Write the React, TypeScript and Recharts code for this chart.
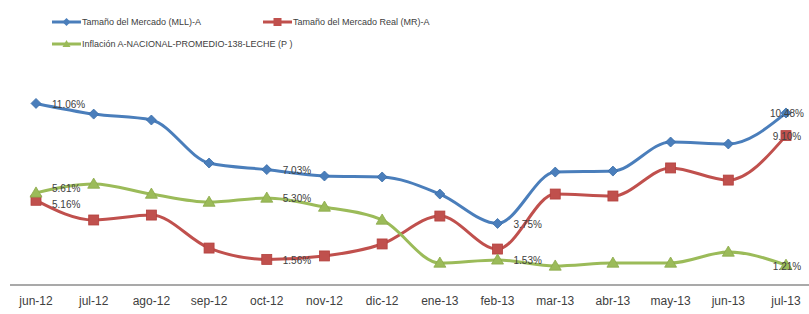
import React from "react";
import { LineChart, Line, XAxis, YAxis } from "recharts";

const categories = ["jun-12", "jul-12", "ago-12", "sep-12", "oct-12", "nov-12", "dic-12", "ene-13", "feb-13", "mar-13", "abr-13", "may-13", "jun-13", "jul-13"];
const mercadoMLL = [11.06, 10.41, 10.05, 7.43, 7.03, 6.64, 6.58, 5.54, 3.75, 6.88, 6.94, 8.71, 8.59, 10.48];
const mercadoReal = [5.16, 3.96, 4.26, 2.25, 1.56, 1.77, 2.5, 4.2, 2.19, 5.54, 5.42, 7.13, 6.39, 9.1];
const inflacion = [5.61, 6.15, 5.54, 5.05, 5.3, 4.75, 3.96, 1.34, 1.53, 1.16, 1.34, 1.34, 2.01, 1.21];
const labeledMLL = [0, 4, 8, 13];
const labeledReal = [0, 4, 13];
const labeledInfl = [0, 4, 8, 13];

const seriesNames = ["Tamaño del Mercado (MLL)-A", "Tamaño del Mercado Real (MR)-A", "Inflación A-NACIONAL-PROMEDIO-138-LECHE (P )"];
const BLUE = "#4A7EBB";
const RED = "#C0504D";
const GREEN = "#9BBB59";

const data = categories.map((c, i) => ({ cat: c, mll: mercadoMLL[i], real: mercadoReal[i], infl: inflacion[i] }));

const FONT = "'Liberation Sans', Arial, sans-serif";
const NARROW = "'Liberation Sans Narrow', 'Liberation Sans', Arial, sans-serif";

const Diamond = (props: any) => {
  const { cx, cy } = props;
  if (cx == null || cy == null) return null;
  const r = 5;
  return <path d={`M${cx},${cy - r}L${cx + r},${cy}L${cx},${cy + r}L${cx - r},${cy}Z`} fill={BLUE} stroke="#3A6DA8" strokeWidth={0.8} />;
};
const Square = (props: any) => {
  const { cx, cy } = props;
  if (cx == null || cy == null) return null;
  const r = 5;
  return <rect x={cx - r} y={cy - r} width={2 * r} height={2 * r} fill={RED} stroke="#B3403D" strokeWidth={0.8} />;
};
const Triangle = (props: any) => {
  const { cx, cy } = props;
  if (cx == null || cy == null) return null;
  const r = 6;
  return <path d={`M${cx},${cy - r}L${cx + r},${cy + r * 0.7}L${cx - r},${cy + r * 0.7}Z`} fill={GREEN} stroke="#8BAA4A" strokeWidth={0.8} />;
};

const makeLabel = (idxs: number[], firstOffset: number) => (props: any) => {
  const { x, y, value, index } = props;
  if (!idxs.includes(index)) return null;
  const last = index === categories.length - 1;
  const text = `${Number(value).toFixed(2)}%`;
  const dy = index === 0 ? firstOffset : 1;
  return (
    <text
      x={last ? x + 1 : x + 16}
      y={y + dy}
      textAnchor={last ? "middle" : "start"}
      dominantBaseline="central"
      fontSize={10}
      fontFamily={FONT}
      fill="#404040"
    >
      {text}
    </text>
  );
};

const LegendItem = ({ left, top, color, shape, name }: any) => (
  <div style={{ position: "absolute", left, top, display: "flex", alignItems: "center", height: 14 }}>
    <svg width={29} height={12} style={{ display: "block" }}>
      <line x1={0} y1={6} x2={29} y2={6} stroke={color} strokeWidth={3} />
      {shape === "diamond" && <path d="M14.5,2L18.5,6L14.5,10L10.5,6Z" fill={color} />}
      {shape === "square" && <rect x={10.5} y={2} width={8} height={8} fill={color} />}
      {shape === "triangle" && <path d="M14.5,2L18.5,9L10.5,9Z" fill={color} />}
    </svg>
    <span style={{ fontFamily: NARROW, fontSize: 9, color: "#404040", whiteSpace: "nowrap", marginLeft: 1 }}>{name}</span>
  </div>
);

export default function App() {
  return (
    <div style={{ position: "absolute", left: 0, top: 0, width: 809, height: 314, background: "#fff" }}>
      <LineChart width={809} height={314} data={data} margin={{ top: 88, right: 0, bottom: 0, left: 10 }}>
        <XAxis
          dataKey="cat"
          height={29}
          padding={{ left: 26, right: 23 }}
          tickLine={false}
          axisLine={{ stroke: "#8C8C8C", strokeWidth: 1.5 }}
          tickMargin={5}
          tick={{ fontSize: 12, fontFamily: NARROW, fill: "#404040" }}
          interval={0}
        />
        <YAxis hide domain={[0, 12]} />
        <Line type="monotone" dataKey="mll" stroke={BLUE} strokeWidth={3} dot={<Diamond />} isAnimationActive={false} label={makeLabel(labeledMLL, 1)} />
        <Line type="monotone" dataKey="real" stroke={RED} strokeWidth={3} dot={<Square />} isAnimationActive={false} label={makeLabel(labeledReal, 4)} />
        <Line type="monotone" dataKey="infl" stroke={GREEN} strokeWidth={3} dot={<Triangle />} isAnimationActive={false} label={makeLabel(labeledInfl, -4)} />
      </LineChart>
      <LegendItem left={52} top={15} color={BLUE} shape="diamond" name={seriesNames[0]} />
      <LegendItem left={263} top={15} color={RED} shape="square" name={seriesNames[1]} />
      <LegendItem left={52} top={37} color={GREEN} shape="triangle" name={seriesNames[2]} />
    </div>
  );
}
